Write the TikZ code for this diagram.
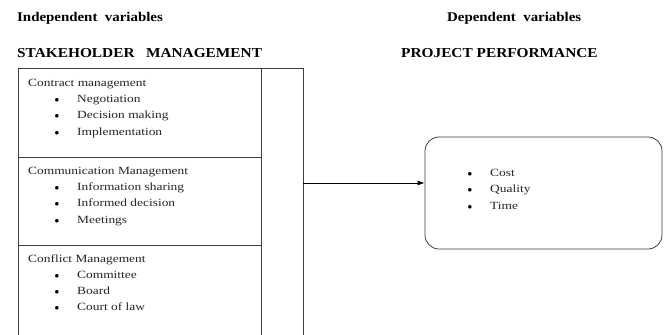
\documentclass[tikz,border=0pt]{standalone}
\usepackage{fontspec}
\usetikzlibrary{arrows.meta}
\setmainfont[FakeStretch=1.12]{Liberation Serif}
\newfontfamily\bodyfont[FakeStretch=1.22]{Liberation Serif}
\begin{document}
\begin{tikzpicture}[x=1pt,y=-1pt,
  title/.style={anchor=base west,inner sep=0pt,font=\bfseries\fontsize{13.3}{15}\selectfont},
  head/.style={anchor=base west,inner sep=0pt,font=\bfseries\fontsize{13.7}{15}\selectfont},
  txt/.style={anchor=base west,inner sep=0pt,text=black!85,font=\bodyfont\fontsize{11}{13}\selectfont},
  bul/.style={anchor=base,inner sep=0pt,font=\fontsize{9.5}{11}\selectfont},
  frame/.style={draw=black!75,line width=0.8pt}]
\useasboundingbox (0,0) rectangle (665,335);
\fill[white] (0,0) rectangle (665,335);
% titles
\node[title] (iv) at (17,21) {Independent\ \ variables};
\node[head] (sm) at (17,57) {STAKEHOLDER\ \ \ MANAGEMENT};
\node[title] (dv) at (447,21) {Dependent\ \ variables};
\node[head] (pp) at (401,57) {PROJECT PERFORMANCE};
% left frame
\coordinate (tl) at (18,68);
\coordinate (tr) at (303,68);
\coordinate (bl) at (18,335);
\coordinate (br) at (303,335);
\coordinate (dt) at (261,68);
\coordinate (db) at (261,335);
\draw[frame] (bl) -- (tl) -- (tr) -- (br);
\draw[frame] (dt) -- (db);
\coordinate (s1l) at (18,157);
\coordinate (s1r) at (261,157);
\coordinate (s2l) at (18,245);
\coordinate (s2r) at (261,245);
\draw[frame] (s1l) -- (s1r);
\draw[frame] (s2l) -- (s2r);
% section 1
\node[txt] (c0) at (28,86) {Contract management};
\node[bul] (b11) at (57,102) {$\bullet$};
\node[txt] (c1) at (77,102) {Negotiation};
\node[bul] (b12) at (57,118.5) {$\bullet$};
\node[txt] (c2) at (77,118.5) {Decision making};
\node[bul] (b13) at (57,135) {$\bullet$};
\node[txt] (c3) at (77,135) {Implementation};
% section 2
\node[txt] (m0) at (28,174) {Communication Management};
\node[bul] (b21) at (57,190) {$\bullet$};
\node[txt] (m1) at (77,190) {Information sharing};
\node[bul] (b22) at (57,206.5) {$\bullet$};
\node[txt] (m2) at (77,206.5) {Informed decision};
\node[bul] (b23) at (57,223) {$\bullet$};
\node[txt] (m3) at (77,223) {Meetings};
% section 3
\node[txt] (f0) at (28,262) {Conflict Management};
\node[bul] (b31) at (57,278) {$\bullet$};
\node[txt] (f1) at (77,278) {Committee};
\node[bul] (b32) at (57,294) {$\bullet$};
\node[txt] (f2) at (77,294) {Board};
\node[bul] (b33) at (57,310) {$\bullet$};
\node[txt] (f3) at (77,310) {Court of law};
% right box
\node[frame,rounded corners=14pt,minimum width=237pt,minimum height=112pt,inner sep=0pt] (pbox) at (543.5,193) {};
\node[bul] (b41) at (470,176) {$\bullet$};
\node[txt] (p1) at (490,176) {Cost};
\node[bul] (b42) at (470,192.5) {$\bullet$};
\node[txt] (p2) at (490,192.5) {Quality};
\node[bul] (b43) at (470,209) {$\bullet$};
\node[txt] (p3) at (490,209) {Time};
% arrow
\coordinate (as) at (303,183);
\draw[line width=0.8pt,-{Latex[length=7pt,width=5pt]}] (as) -- (as -| pbox.west);
\end{tikzpicture}
\end{document}
